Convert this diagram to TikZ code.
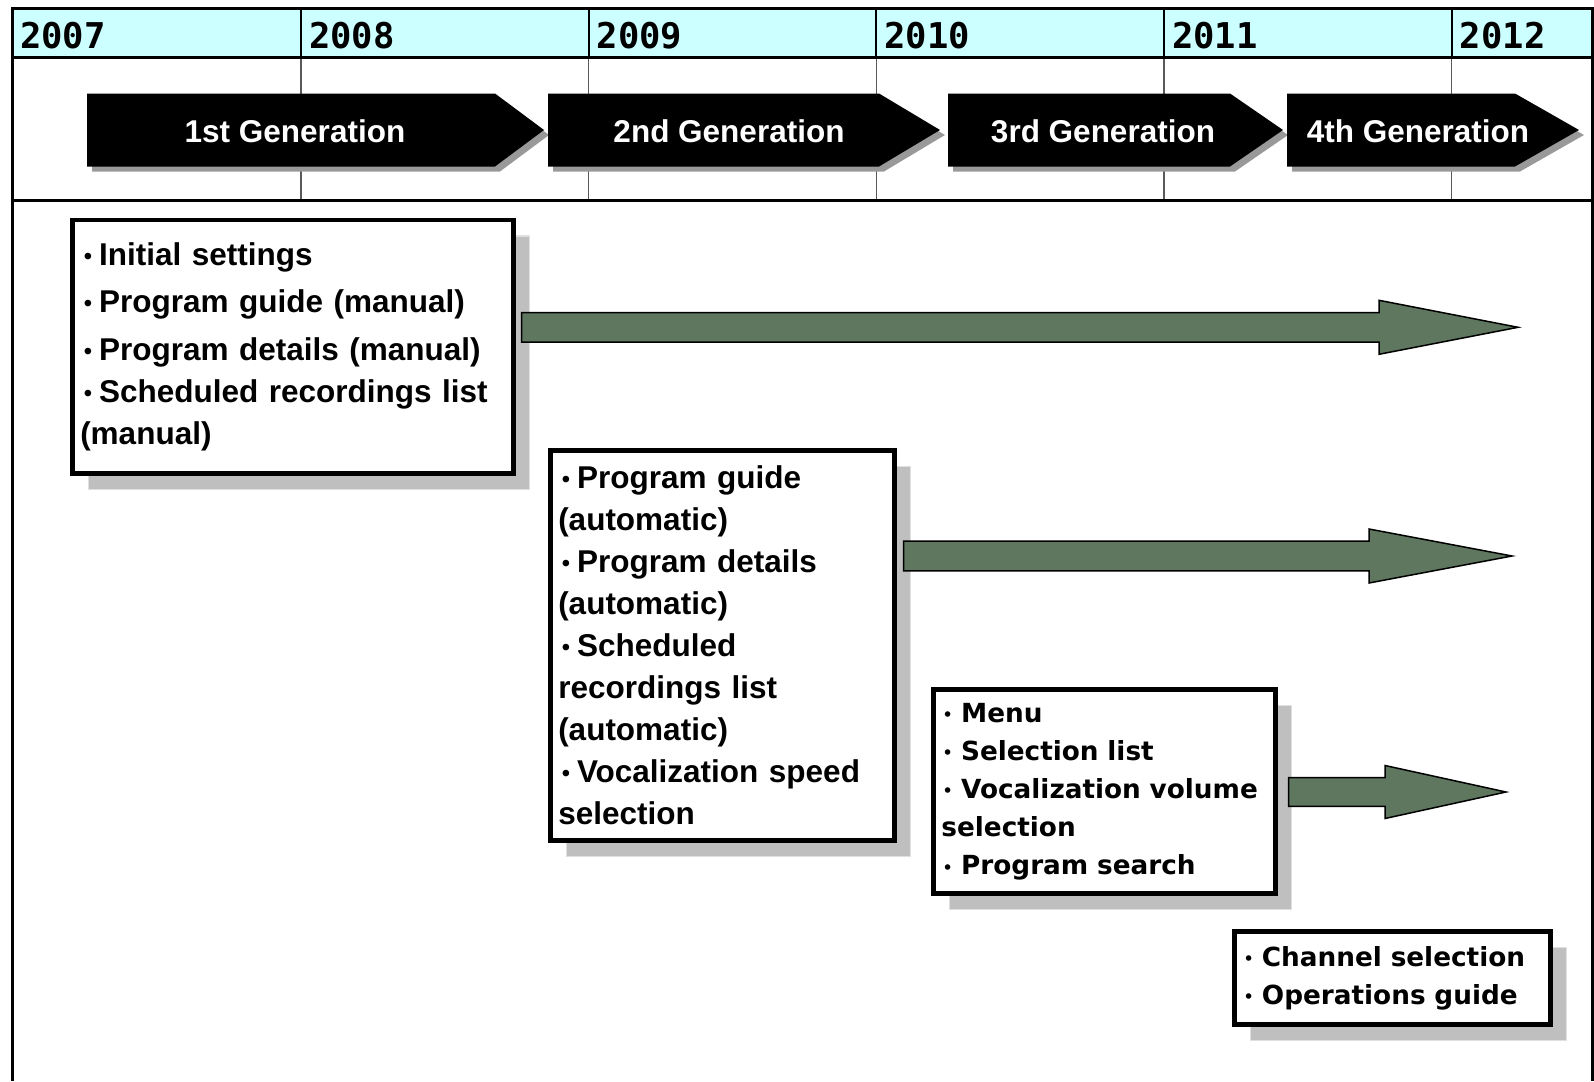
\documentclass[tikz,border=0pt]{standalone}
\usepackage{fontspec}
\setmainfont{Liberation Sans}
\newfontfamily\gothic{DejaVu Sans}
\newfontfamily\gothicmono{DejaVu Sans Mono}
\newfontfamily\cjk{Noto Sans CJK JP}
\usepackage{tikz}
\usetikzlibrary{calc, shadows}
\definecolor{headcyan}{RGB}{204,255,255}
\definecolor{arrowgreen}{RGB}{95,119,95}
\newcommand{\bul}[1][3pt]{\raisebox{-0.1em}{\cjk\bfseries ･}\hspace{#1}}
\tikzstyle{year} = [anchor=west, inner sep=0pt, font=\gothicmono\bfseries\fontsize{35.5}{36}\selectfont]
\tikzstyle{yearline} = [line width=2pt]
\tikzstyle{gridline} = [line width=1.2pt, black!65]
\tikzstyle{genlabel} = [text=white, font=\bfseries\fontsize{31.5}{36}\selectfont]
\tikzstyle{genshadow} = [fill=black!40]
\tikzstyle{featbox} = [rectangle, draw=black, line width=4.5pt, fill=white, inner xsep=8pt, inner ysep=0pt, align=left, anchor=north west, drop shadow={shadow xshift=16pt, shadow yshift=-16pt, opacity=1, fill=black!25, draw=black!12, line width=1.5pt}]
\tikzstyle{arialtext} = [font=\bfseries\fontsize{31.5}{42}\selectfont]
\tikzstyle{gothictext} = [font=\gothic\bfseries\fontsize{26.3}{38.1}\selectfont]
\tikzstyle{bigarrow} = [fill=arrowgreen, draw=black, line width=1.5pt, line join=miter]

\begin{document}
\begin{tikzpicture}[x=1pt, y=-1pt]
\useasboundingbox (0,0) rectangle (1594,1081);

\fill[headcyan] (12,8.5) rectangle (1592,58);
\draw[yearline] (301,8.5) -- (301,58);
\draw[yearline] (588.6,8.5) -- (588.6,58);
\draw[yearline] (876.3,8.5) -- (876.3,58);
\draw[yearline] (1164,8.5) -- (1164,58);
\draw[yearline] (1451.7,8.5) -- (1451.7,58);
\draw[gridline] (301,58) -- (301,200);
\draw[gridline] (588.6,58) -- (588.6,200);
\draw[gridline] (876.3,58) -- (876.3,200);
\draw[gridline] (1164,58) -- (1164,200);
\draw[gridline] (1451.7,58) -- (1451.7,200);
\draw[line width=3pt] (12,58) -- (1592,58);
\draw[line width=3pt] (12,200) -- (1592,200);
\draw[line width=3pt] (12,1081) -- (12,8.5) -- (1592,8.5) -- (1592,1081);

\node (y2007) [year] at (20,35.6) {2007};
\node (y2008) [year] at (309,35.6) {2008};
\node (y2009) [year] at (596.6,35.6) {2009};
\node (y2010) [year] at (884.3,35.6) {2010};
\node (y2011) [year] at (1172,35.6) {2011};
\node (y2012) [year] at (1459.7,35.6) {2012};

\fill[genshadow, shift={(5,5)}] (87,93.5) -- (495,93.5) -- (544,130) -- (495,166.5) -- (87,166.5) -- cycle;
\fill[black] (87,93.5) -- (495,93.5) -- (544,130) -- (495,166.5) -- (87,166.5) -- cycle;
\fill[genshadow, shift={(5,5)}] (548,93.5) -- (879,93.5) -- (940,130) -- (879,166.5) -- (548,166.5) -- cycle;
\fill[black] (548,93.5) -- (879,93.5) -- (940,130) -- (879,166.5) -- (548,166.5) -- cycle;
\fill[genshadow, shift={(5,5)}] (948,93.5) -- (1230,93.5) -- (1283,130) -- (1230,166.5) -- (948,166.5) -- cycle;
\fill[black] (948,93.5) -- (1230,93.5) -- (1283,130) -- (1230,166.5) -- (948,166.5) -- cycle;
\fill[genshadow, shift={(5,5)}] (1287,93.5) -- (1515,93.5) -- (1579,130) -- (1515,166.5) -- (1287,166.5) -- cycle;
\fill[black] (1287,93.5) -- (1515,93.5) -- (1579,130) -- (1515,166.5) -- (1287,166.5) -- cycle;

\node (gen1) [genlabel] at (295,131) {1st Generation};
\node (gen2) [genlabel] at (729,131) {2nd Generation};
\node (gen3) [genlabel] at (1103,131) {3rd Generation};
\node (gen4) [genlabel] at (1418,131) {4th Generation};

\node (feat1) [featbox, arialtext, text width=425pt, minimum height=253.6pt] at (70,217.6) {\bul Initial settings\\[5.5pt]\bul Program guide (manual)\\[5.5pt]\bul Program details (manual)\\\bul Scheduled recordings list\\(manual)};
\node (feat2) [featbox, arialtext, text width=328pt, minimum height=390pt] at (548,448.3) {\bul Program guide\\(automatic)\\\bul Program details\\(automatic)\\\bul Scheduled\\recordings list\\(automatic)\\\bul Vocalization speed\\selection};
\node (feat3) [featbox, gothictext, text width=326pt, minimum height=204pt] at (931.2,687.2) {\bul[6.5pt]Menu\\\bul[6.5pt]Selection list\\\bul[6.5pt]Vocalization volume\\selection\\\bul[6.5pt]Program search};
\node (feat4) [featbox, gothictext, text width=300pt, minimum height=93pt] at (1232,929.2) {\bul[6.5pt]Channel selection\\\bul[6.5pt]Operations guide};

\coordinate (end1) at (1518,327.3);
\coordinate (end2) at (1512,556);
\coordinate (end3) at (1506,792);
\coordinate (start1) at ($(feat1.east |- end1)+(6,0)$);
\coordinate (start2) at ($(feat2.east |- end2)+(7,0)$);
\coordinate (start3) at ($(feat3.east |- end3)+(11,0)$);

\draw[bigarrow] ($(start1)+(0,-14.8)$) -- ($(end1)+(-139,-14.8)$) -- ($(end1)+(-139,-27)$) -- (end1) -- ($(end1)+(-139,27)$) -- ($(end1)+(-139,14.8)$) -- ($(start1)+(0,14.8)$) -- cycle;
\draw[bigarrow] ($(start2)+(0,-14.8)$) -- ($(end2)+(-143,-14.8)$) -- ($(end2)+(-143,-27)$) -- (end2) -- ($(end2)+(-143,27)$) -- ($(end2)+(-143,14.8)$) -- ($(start2)+(0,14.8)$) -- cycle;
\draw[bigarrow] ($(start3)+(0,-14.3)$) -- ($(end3)+(-121,-14.3)$) -- ($(end3)+(-121,-26.5)$) -- (end3) -- ($(end3)+(-121,26.5)$) -- ($(end3)+(-121,14.3)$) -- ($(start3)+(0,14.3)$) -- cycle;
\end{tikzpicture}
\end{document}
